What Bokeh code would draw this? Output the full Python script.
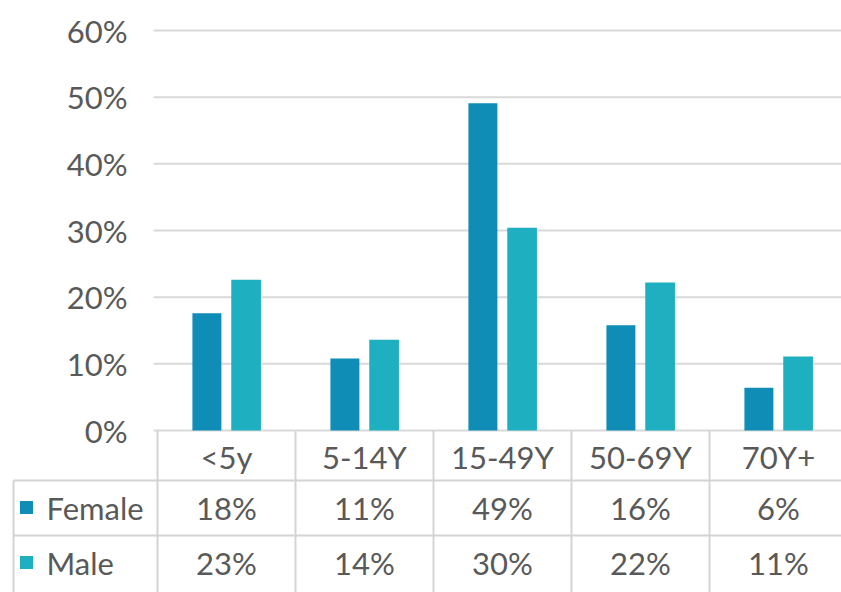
import numpy as np
from bokeh.plotting import figure
from bokeh.models import Range1d, ColumnDataSource
from bokeh.transform import dodge
from bokeh.core.properties import value
from bokeh.embed import file_html
from bokeh.resources import INLINE

# ---- data ----
categories = ["<5y", "5-14Y", "15-49Y", "50-69Y", "70Y+"]
female = [17.6, 10.8, 49.1, 15.8, 6.4]
male = [22.6, 13.6, 30.4, 22.2, 11.1]
series_names = ["Female", "Male"]
y_ticks = [0, 10, 20, 30, 40, 50, 60]

# ---- style ----
FEMALE_C = "#0F8DB6"
MALE_C = "#1EAFC0"
TXT = "#595959"
GRID = "#D9D9D9"
LINE_C = "#D4D4D4"
FONT = "Lato"
FS = "31px"

# ---- layout (page pixels; Bokeh's page template has no body margin) ----
W, H = 841, 592
PAGE_L, PAGE_T = 0, 0
ZERO_X = 157          # page x of category 0 left edge
COL_W = 138           # pixels per category
ZERO_Y = 430          # page y of 0 %
PX_PER_PCT = 400 / 60


def px_x(px):
    return (px - ZERO_X) / COL_W


def px_y(py):
    return (ZERO_Y - py) / PX_PER_PCT


x_start, x_end = px_x(PAGE_L), px_x(PAGE_L + W)
y_top, y_bot = px_y(PAGE_T), px_y(PAGE_T + H)

n = len(categories)
xs = np.arange(n) + 0.5
src = ColumnDataSource(dict(x=xs, female=female, male=male, cat=categories,
                            flab=[f"{round(v)}%" for v in female],
                            mlab=[f"{round(v)}%" for v in male]))

p = figure(width=W, height=H, x_range=Range1d(x_start, x_end), y_range=Range1d(y_bot, y_top),
           output_backend="svg", toolbar_location=None,
           x_axis_location=None, y_axis_location=None,
           min_border_left=0, min_border_right=0, min_border_top=0, min_border_bottom=0)
p.outline_line_color = None
p.grid.visible = False

# gridlines and y tick labels
p.segment(x0=[px_x(153)] * len(y_ticks), x1=[x_end] * len(y_ticks), y0=y_ticks, y1=y_ticks,
          line_color=GRID, line_width=2)
p.text(x=[px_x(127)] * len(y_ticks), y=y_ticks, text=[f"{t}%" for t in y_ticks],
       text_font=value(FONT), text_font_size=value(FS), text_color=TXT,
       text_align="right", text_baseline="middle")

# bars
p.vbar(x=dodge("x", -0.142, range=p.x_range), top="female", width=0.21, source=src,
       fill_color=FEMALE_C, line_color=None)
p.vbar(x=dodge("x", 0.142, range=p.x_range), top="male", width=0.215, source=src,
       fill_color=MALE_C, line_color=None)

# data table grid
row1, row2 = px_y(480), px_y(535)
left_edge = px_x(13)
p.segment(x0=[left_edge] * 2, x1=[x_end] * 2, y0=[row1, row2], y1=[row1, row2],
          line_color=LINE_C, line_width=2)
vx = list(range(n + 1))
p.segment(x0=vx, x1=vx, y0=[0] * len(vx), y1=[y_bot] * len(vx), line_color=LINE_C, line_width=2)
p.segment(x0=[left_edge], x1=[left_edge], y0=[row1], y1=[y_bot], line_color=LINE_C, line_width=2)

common = dict(text_font=value(FONT), text_font_size=value(FS), text_color=TXT,
              text_align="center", text_baseline="middle")
hdr_y, f_y, m_y = px_y(456), px_y(507), px_y(562)
p.text(x="x", y=hdr_y, text="cat", source=src, **common)
p.text(x="x", y=f_y, text="flab", source=src, **common)
p.text(x="x", y=m_y, text="mlab", source=src, **common)

# legend keys in the table
p.scatter(x=[px_x(26)] * 2, y=[f_y, m_y], marker="square", size=13,
          fill_color=[FEMALE_C, MALE_C], line_color=None)
p.text(x=[px_x(46)] * 2, y=[f_y, m_y], text=series_names, text_font=value(FONT),
       text_font_size=value(FS), text_color=TXT, text_align="left", text_baseline="middle")

open("out.html", "w").write(file_html(p, INLINE))
